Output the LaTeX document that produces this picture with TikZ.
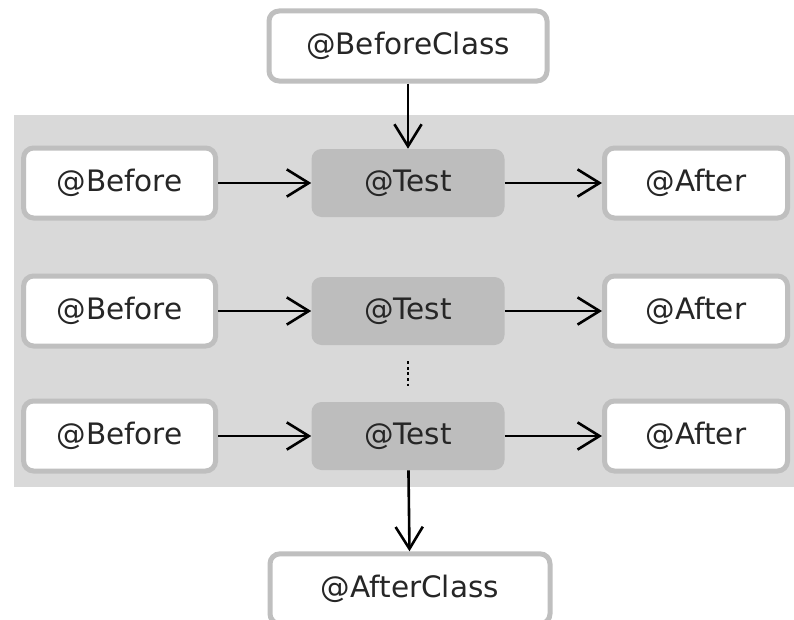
\documentclass[tikz,border=0pt]{standalone}
\usepackage{fontspec}
\setmainfont{DejaVu Sans}
\usetikzlibrary{arrows.meta}

\begin{document}
\begin{tikzpicture}[
  every node/.style = {font=\fontsize{21}{25}\selectfont, text=black!85},
  hook/.style = {draw=gray!50, line width=0.125cm, fill=white, rounded corners=0.25cm, minimum height=1.75cm},
  testbox/.style = {fill=gray!52, rounded corners=0.25cm, minimum width=4.825cm, minimum height=1.7cm},
  flow/.style = {line width=0.065cm, -{Straight Barb[length=0.55cm, width=0.68cm, line width=0.065cm]}}
]
  \useasboundingbox (0,0) rectangle (19.85,-15.5);
  \fill[gray!30] (0.35,-2.875) rectangle (19.85,-12.175);

  \node[hook, minimum width=6.95cm] (bc) at (10.2,-1.15) {@BeforeClass};

  \node[hook, minimum width=4.8cm] (b1) at (2.99,-4.575) {@Before};
  \node[hook, minimum width=4.8cm] (b2) at (2.99,-7.775) {@Before};
  \node[hook, minimum width=4.8cm] (b3) at (2.99,-10.9) {@Before};

  \node[testbox] (t1) at (10.2,-4.575) {@Test};
  \node[testbox] (t2) at (10.2,-7.775) {@Test};
  \node[testbox] (t3) at (10.2,-10.9) {@Test};

  \node[hook, minimum width=4.575cm] (a1) at (17.4,-4.575) {@After};
  \node[hook, minimum width=4.575cm] (a2) at (17.4,-7.775) {@After};
  \node[hook, minimum width=4.575cm] (a3) at (17.4,-10.9) {@After};

  \node[hook, minimum width=7cm] (ac) at (10.25,-14.72) {@AfterClass};

  \draw[flow] (bc) -- (t1);
  \draw[flow] (b1) -- (t1);
  \draw[flow] (b2) -- (t2);
  \draw[flow] (b3) -- (t3);
  \draw[flow] (t1) -- (a1);
  \draw[flow] (t2) -- (a2);
  \draw[flow] (t3) -- (a3);
  \draw[flow] (t3) -- (ac);
  \draw[line width=0.065cm, dash pattern=on 0.07cm off 0.07cm, shorten <=0.4cm, shorten >=0.35cm] (t2) -- (t3);
\end{tikzpicture}
\end{document}
